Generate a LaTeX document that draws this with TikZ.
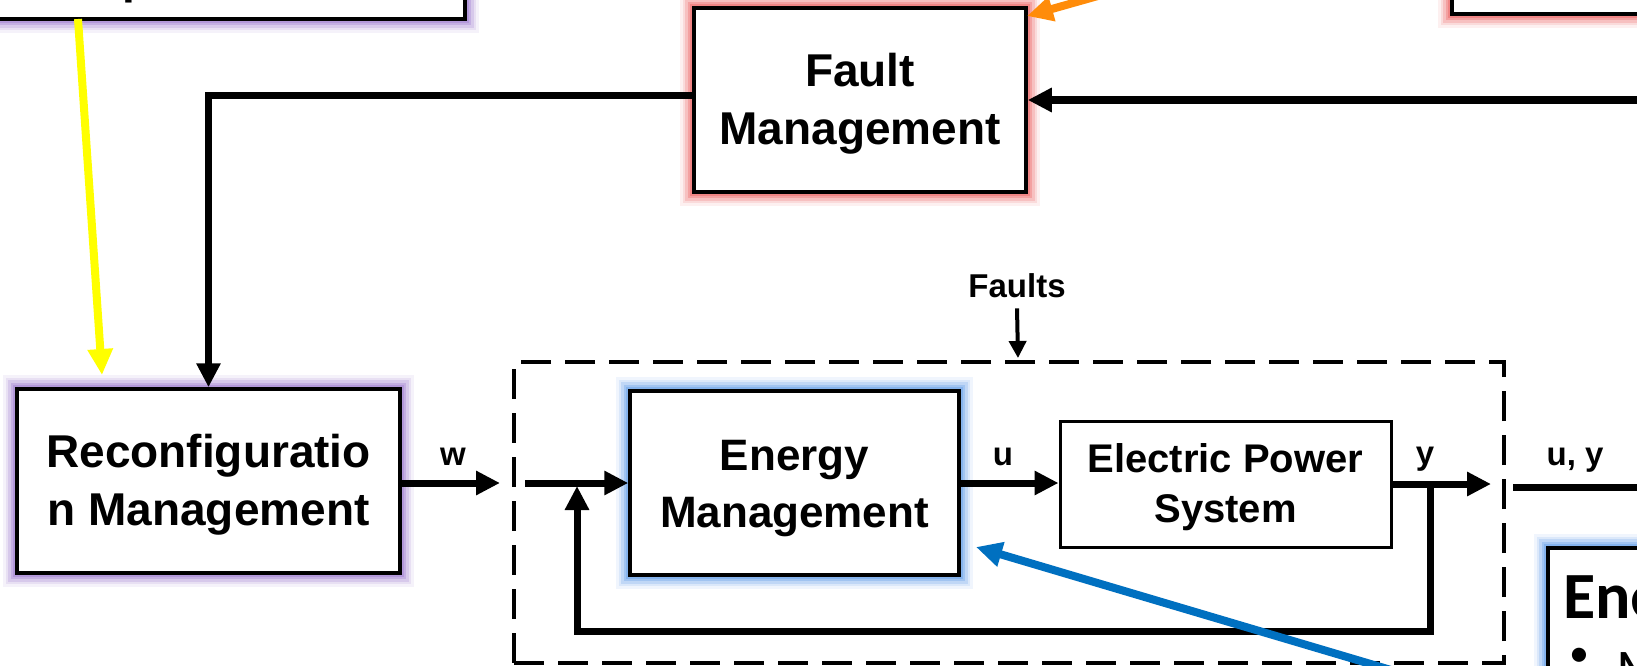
\documentclass[tikz,border=0pt]{standalone}
\usepackage{fontspec}
\setmainfont{Liberation Sans}
\newfontfamily\calibfont{Carlito}
\usetikzlibrary{arrows.meta}
\pgfdeclarelayer{bg}
\pgfsetlayers{bg,main}
\definecolor{glowpurple}{RGB}{140,100,200}
\definecolor{glowred}{RGB}{235,70,70}
\definecolor{glowblue}{RGB}{70,140,230}
\definecolor{arrblue}{RGB}{0,112,192}
\definecolor{arrorange}{RGB}{255,140,10}
\definecolor{arryellow}{RGB}{255,255,0}
\newcommand{\glowbox}[2]{%
  \begin{pgfonlayer}{bg}
  \foreach \w/\o in {24/0.08,19/0.12,14/0.18,9/0.25,5/0.3}{%
    \draw[draw=#2, draw opacity=\o, line width=\w pt] (#1.south west) rectangle (#1.north east);}
  \end{pgfonlayer}}
\begin{document}
\begin{tikzpicture}[x=1pt,y=-1pt,line join=miter,
  blk/.style={draw=black, line width=3.5pt, fill=white, inner sep=0pt},
  btxt/.style={align=center, inner sep=0pt, font=\bfseries\fontsize{46}{58}\selectfont},
  sysbox/.style={draw=black, line width=4.5pt, dash pattern=on 30pt off 14pt, inner sep=0pt},
  conn/.style={line width=7pt, -{Triangle[length=24pt,width=23pt]}},
  cconn/.style={line width=8pt, -{Triangle[length=26pt,width=24pt]}},
  lbl/.style={font=\bfseries\fontsize{33}{40}\selectfont, inner sep=0pt},
]
\useasboundingbox (0,0) rectangle (1637,666);
\clip (0,0) rectangle (1637,666);
\begin{pgfonlayer}{bg}
\fill[white] (0,0) rectangle (1637,666);
\end{pgfonlayer}

% partial boxes at the edges
\node[blk, minimum width=495pt, minimum height=119pt] (tl) at (217.5,-40.5) {};
\node[font=\bfseries\fontsize{46}{57}\selectfont, anchor=base west, inner sep=0pt] (tlp) at (122,-6) {p};
\node[blk, minimum width=248pt, minimum height=114pt] (tr) at (1576,-43) {};
\node[blk, minimum width=152pt, minimum height=172pt] (ene) at (1624,634) {};
\node[anchor=base west, inner sep=0pt, font=\calibfont\bfseries\fontsize{66}{70}\selectfont] (enet) at (1563,618) {Energy Management};
\node[inner sep=0pt, font=\calibfont\fontsize{40}{44}\selectfont] (bul) at (1579,657) {•};
\node[anchor=north west, inner sep=0pt, font=\calibfont\bfseries\fontsize{40}{44}\selectfont] (bm) at (1618,652) {M};

% main boxes
\node[blk, minimum width=383pt, minimum height=184pt] (rec) at (208.5,481) {};
\node[btxt] (rect) at ([yshift=-4pt]rec.center) {Reconfiguratio\\n Management};
\node[blk, minimum width=332pt, minimum height=184pt] (fault) at (860,100) {};
\node[btxt] (faultt) at ([yshift=-4pt]fault.center) {Fault\\Management};
\node[sysbox, minimum width=990pt, minimum height=301pt] (sys) at (1009,512.5) {};
\node[blk, minimum width=329pt, minimum height=184pt] (em) at (794.5,483) {};
\node[btxt, font=\bfseries\fontsize{44}{57}\selectfont] (emt) at ([yshift=-6pt]em.center) {Energy\\Management};
\node[blk, line width=3pt, minimum width=331pt, minimum height=126pt] (eps) at (1225.5,484) {};
\node[btxt, font=\bfseries\fontsize{40}{50}\selectfont] (epst) at ([yshift=-3pt]eps.center) {Electric Power\\System};

\glowbox{tl}{glowpurple}
\glowbox{rec}{glowpurple}
\glowbox{fault}{glowred}
\glowbox{tr}{glowred}
\glowbox{em}{glowblue}
\glowbox{ene}{glowblue}

% labels
\node[lbl] (wl) at (453,457) {w};
\node[lbl] (ul) at (1003,457) {u};
\node[lbl] (yl) at (1425,459.5) {y};
\node[lbl] (uyl) at (1575,460) {u, y};
\node[lbl] (faults) at (1017,286) {Faults};

% coordinates
\coordinate (tlbot) at (78,19);
\coordinate (ytip) at (102,375);
\coordinate (wtip) at (500,483);
\coordinate (win) at (525,483);
\coordinate (ybr) at (1430,484);
\coordinate (ytipc) at (1491,484);
\coordinate (fbl) at (577,631);
\coordinate (fbtip) at (577,486);
\coordinate (uys) at (1513,487);
\coordinate (uye) at (1645,487);
\coordinate (ftip) at (1018,358);
\coordinate (rin) at (1645,100);
\coordinate (os) at (1112,-8);
\coordinate (otip) at (1027,16);
\coordinate (bs) at (1401,673);
\coordinate (btip) at (976,547);

% connectors
\draw[cconn, draw=arryellow, fill=arryellow] (tlbot) -- (ytip);
\draw[conn] ([yshift=4pt]fault.west) -| (rec.north);
\draw[conn, line width=8pt] (rin) -- (fault.east);
\draw[conn] (rec.east |- wtip) -- (wtip);
\draw[conn] (win) -- (em.west |- win);
\draw[conn] (em.east) -- (eps.west |- em.east);
\draw[conn] (eps.east) -- (ytipc);
\draw[conn] (ybr) |- (fbl) -- (fbtip);
\draw[line width=7pt] (uys) -- (uye);
\draw[line width=4pt, -{Triangle[length=17pt,width=17pt]}] ([yshift=-10pt]faults.south) -- (ftip);
\draw[cconn, draw=arrorange, fill=arrorange] (os) -- (otip);
\draw[cconn, draw=arrblue, fill=arrblue] (bs) -- (btip);
\end{tikzpicture}
\end{document}
